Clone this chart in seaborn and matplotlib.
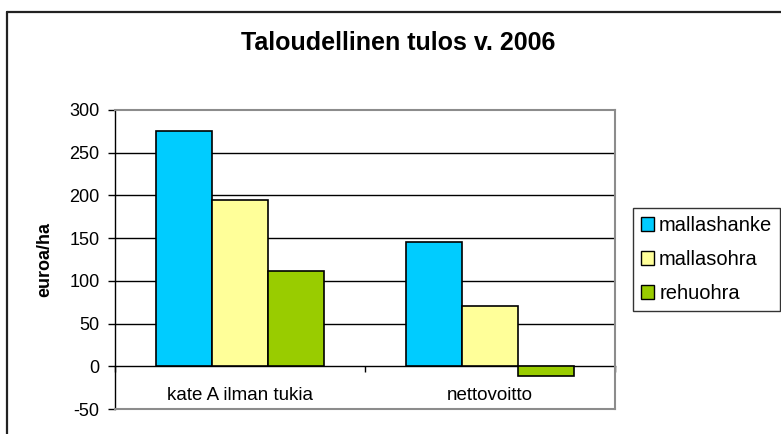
import matplotlib
matplotlib.use("Agg")
import matplotlib.pyplot as plt
import seaborn as sns
import pandas as pd
from matplotlib.patches import Patch
from matplotlib.lines import Line2D

categories = ["kate A ilman tukia", "nettovoitto"]
series = ["mallashanke", "mallasohra", "rehuohra"]
mallashanke = [275, 146]
mallasohra = [195, 70]
rehuohra = [112, -11]
colors = ["#00CCFF", "#FFFF99", "#99CC00"]
yticks = [-50, 0, 50, 100, 150, 200, 250, 300]
title = "Taloudellinen tulos v. 2006"
ylabel = "euroa/ha"

rows = []
for s, vals in zip(series, [mallashanke, mallasohra, rehuohra]):
    for c, v in zip(categories, vals):
        rows.append({"cat": c, "series": s, "value": v})
df = pd.DataFrame(rows)

sns.set_theme(style="white")
plt.rcParams["font.family"] = ["Liberation Sans", "DejaVu Sans"]
for k in ["text.color", "axes.labelcolor", "xtick.color", "ytick.color"]:
    plt.rcParams[k] = "black"

W, H = 781, 434
fig = plt.figure(figsize=(W / 100, H / 100), dpi=100)
L, R, T, B = 115, 615, 110, 409
ax = fig.add_axes([L / W, 1 - B / H, (R - L) / W, (B - T) / H])

sns.barplot(data=df, x="cat", y="value", hue="series", order=categories,
            hue_order=series, palette=colors, width=0.672, ax=ax,
            edgecolor="black", linewidth=1.2, saturation=1, legend=False)

ax.set_xlim(-0.5, 1.5)
ax.set_ylim(-50, 300)
ax.set_yticks(yticks)
ax.set_yticklabels([str(t) for t in yticks], fontsize=13)
ax.tick_params(axis="y", direction="out", length=5, width=1, color="black",
               pad=6, left=True)
ax.set_xticks([])
ax.set_xlabel("")
ax.set_ylabel(ylabel, fontsize=13, fontweight="bold", labelpad=12)

for v in yticks[2:-1]:
    ax.axhline(v, color="black", lw=1, zorder=0)

for side in ["top", "right", "bottom"]:
    ax.spines[side].set_color("#8c8c8c")
    ax.spines[side].set_linewidth(1.5)
ax.spines["left"].set_color("black")
ax.spines["left"].set_linewidth(1)
ax.set_facecolor("white")

# category axis at y = 0
sec = ax.secondary_xaxis(location=50 / 350)
sec.spines["bottom"].set_color("black")
sec.spines["bottom"].set_linewidth(1)
sec.set_xticks([-0.5, 0.5, 1.5])
sec.set_xticklabels(["", "", ""])
sec.set_xticks([0, 1], labels=categories, minor=True)
sec.tick_params(axis="x", which="major", direction="out", length=4, width=1, color="black")
sec.tick_params(axis="x", which="minor", length=0, pad=15, labelsize=13.5)

fig.text(398 / W, 1 - 43 / H, title, ha="center", va="center",
         fontsize=18, fontweight="bold")

handles = [Patch(facecolor=c, edgecolor="black", linewidth=1) for c in colors]
leg = fig.legend(handles, series, loc="upper left",
                 bbox_to_anchor=(633 / W, 1 - 208 / H), fontsize=14.5,
                 frameon=True, fancybox=False, handlelength=0.65,
                 handleheight=0.65, handletextpad=0.25, borderpad=0.4,
                 labelspacing=0.75, borderaxespad=0)
leg.get_frame().set_edgecolor("black")
leg.get_frame().set_linewidth(1)

# outer chart frame
fig.add_artist(Line2D([7 / W, 1.01], [1 - 12 / H, 1 - 12 / H], color="#222222", lw=1.6))
fig.add_artist(Line2D([7 / W, 7 / W], [1 - 12 / H, -0.01], color="#222222", lw=1.6))

fig.savefig("out.png", dpi=100)
